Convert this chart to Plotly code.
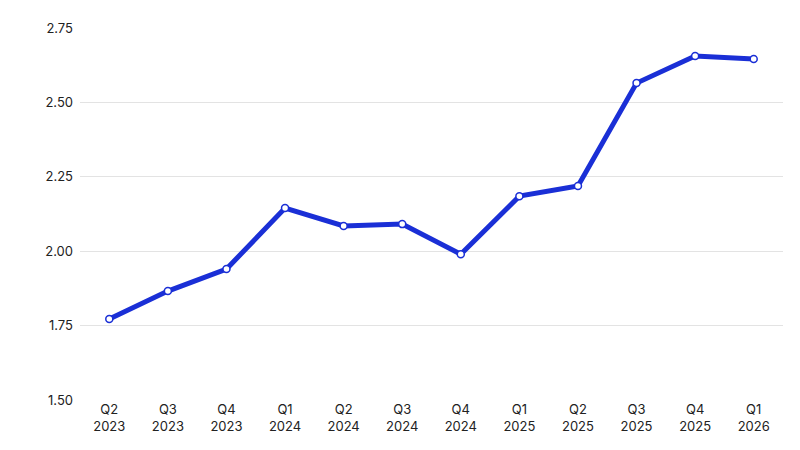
import plotly.graph_objects as go

categories = ["Q2<br>2023","Q3<br>2023","Q4<br>2023","Q1<br>2024","Q2<br>2024","Q3<br>2024",
              "Q4<br>2024","Q1<br>2025","Q2<br>2025","Q3<br>2025","Q4<br>2025","Q1<br>2026"]
values = [1.772,1.866,1.940,2.145,2.085,2.091,1.990,2.185,2.219,2.565,2.656,2.646]
y_ticks = [1.50,1.75,2.00,2.25,2.50,2.75]

fig = go.Figure(go.Scatter(
    x=categories, y=values, mode="lines+markers",
    line=dict(color="#1a2fd6", width=5),
    marker=dict(size=7, color="white", line=dict(color="#1a2fd6", width=1.5)),
))
fig.update_layout(
    width=800, height=450, plot_bgcolor="white", paper_bgcolor="white",
    margin=dict(l=72, r=25, t=20, b=58, autoexpand=False), showlegend=False,
    font=dict(family="Inter", size=13, color="#222"),
    xaxis=dict(showgrid=False, showline=False, ticks="", range=[-0.5, 11.5], automargin=False),
    yaxis=dict(range=[1.5, 2.75], tickvals=y_ticks, tickformat=".2f", automargin=False,
               gridcolor="#e3e3e3", zeroline=False, showline=False, ticks="", ticklabelstandoff=6),
)
fig.write_html("out.html")
